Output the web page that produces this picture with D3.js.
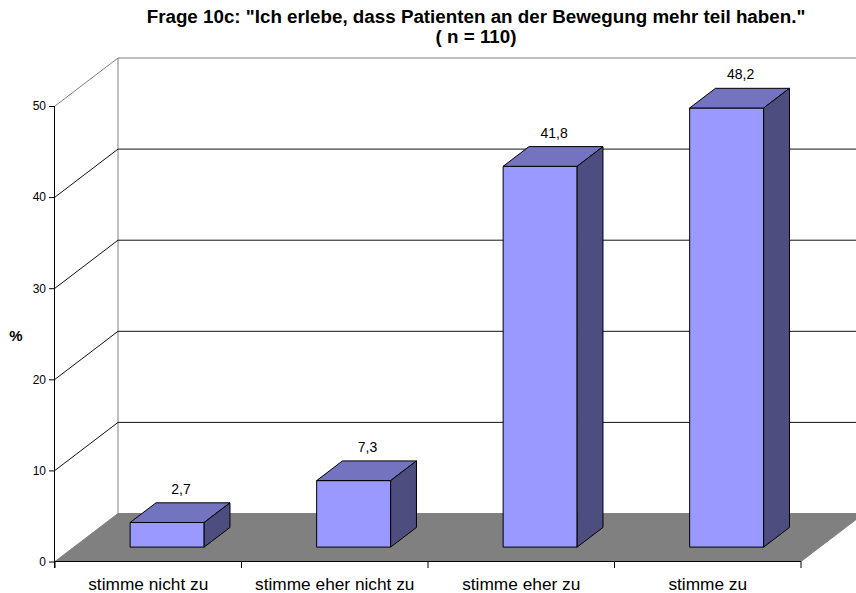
<!DOCTYPE html>
<html>
<head>
<meta charset="utf-8">
<script src="https://cdn.jsdelivr.net/npm/d3@7"></script>
<style>
  html, body { margin: 0; padding: 0; background: #fff; }
  svg { display: block; font-family: "Liberation Sans", Arial, sans-serif; }
</style>
</head>
<body>
<svg id="chart" width="856" height="593"></svg>
<script>
const categories = ["stimme nicht zu", "stimme eher nicht zu", "stimme eher zu", "stimme zu"];
const values = [2.7, 7.3, 41.8, 48.2];
const valueLabels = ["2,7", "7,3", "41,8", "48,2"];
const yTicks = [0, 10, 20, 30, 40, 50];
const titleLines = ["Frage 10c: \"Ich erlebe, dass Patienten an der Bewegung mehr teil haben.\"", "( n = 110)"];
const yAxisTitle = "%";

const W = 856, H = 593;
const svg = d3.select("#chart");

const x = d3.scaleBand().domain(categories).range([55, 801]).paddingInner(0).paddingOuter(0);
const y = d3.scaleLinear().domain([0, 50]).range([561.5, 106]);
const DX = 63, DY = 48;           // depth offset of back wall
const F0 = 0.3, F1 = 0.71;        // bar depth span (fraction)
const barW = 74;

svg.append("defs").append("clipPath").attr("id", "c")
  .append("rect").attr("x", 0).attr("y", 0).attr("width", W).attr("height", H);

const g = svg.append("g").attr("clip-path", "url(#c)");
const x0 = x.range()[0], x1 = x.range()[1];
const yTop = y(50), yBot = y(0);
const pts = a => a.map(p => p.join(",")).join(" ");

// back wall border
g.append("polyline")
  .attr("points", pts([[x0 + DX, yBot - DY], [x0 + DX, yTop - DY], [x1 + DX, yTop - DY]]))
  .attr("fill", "none").attr("stroke", "#808080").attr("stroke-width", 1);
// left wall top edge
g.append("line").attr("x1", x0).attr("y1", yTop).attr("x2", x0 + DX).attr("y2", yTop - DY)
  .attr("stroke", "#808080");

// gridlines
yTicks.filter(t => t > 0 && t < 50).forEach(t => {
  const yy = y(t);
  g.append("polyline")
    .attr("points", pts([[x0, yy], [x0 + DX, yy - DY], [x1 + DX, yy - DY]]))
    .attr("fill", "none").attr("stroke", "#111").attr("stroke-width", 1);
});

// floor
g.append("polygon")
  .attr("points", pts([[x0, yBot], [x1, yBot], [x1 + DX, yBot - DY], [x0 + DX, yBot - DY]]))
  .attr("fill", "#808080").attr("stroke", "#808080");

// bars
const bars = g.selectAll("g.bar").data(categories).enter().append("g").attr("class", "bar");
bars.each(function(c, i) {
  const v = values[i];
  const cx = x(c) + x.bandwidth() / 2;
  const lx = cx - barW / 2 + F0 * DX;
  const rx = lx + barW;
  const by = y(0) - F0 * DY;
  const ty = y(v) - F0 * DY;
  const ddx = (F1 - F0) * DX, ddy = (F1 - F0) * DY;
  const sel = d3.select(this);
  sel.append("polygon").attr("points", pts([[lx, by], [rx, by], [rx, ty], [lx, ty]]))
    .attr("fill", "#9999FF").attr("stroke", "#000").attr("stroke-width", 1);
  sel.append("polygon").attr("points", pts([[lx, ty], [rx, ty], [rx + ddx, ty - ddy], [lx + ddx, ty - ddy]]))
    .attr("fill", "#7373BF").attr("stroke", "#000").attr("stroke-width", 1);
  sel.append("polygon").attr("points", pts([[rx, by], [rx + ddx, by - ddy], [rx + ddx, ty - ddy], [rx, ty]]))
    .attr("fill", "#4D4D80").attr("stroke", "#000").attr("stroke-width", 1);
  sel.append("text")
    .attr("x", (lx + rx) / 2 + ddx / 2 + 1)
    .attr("y", ty - ddy - 9)
    .attr("text-anchor", "middle")
    .attr("font-size", 14)
    .attr("fill", "#000")
    .text(valueLabels[i]);
});

// y axis
const yAxis = d3.axisLeft(y).tickValues(yTicks).tickSize(6).tickPadding(3).tickFormat(d3.format("d"));
const ya = svg.append("g").attr("transform", `translate(${x0},0)`).call(yAxis);
ya.select(".domain").attr("d", `M-0.5,${yTop}V${yBot + 6.5}`).attr("stroke", "#000");
ya.selectAll(".tick text").attr("font-size", 12).attr("font-family", "Liberation Sans, Arial, sans-serif").attr("fill", "#000");
ya.selectAll(".tick line").attr("stroke", "#000");

// x axis line + ticks at band boundaries
const bounds = categories.map(c => x(c)).concat([x1]);
svg.append("line").attr("x1", x0).attr("x2", x1).attr("y1", yBot).attr("y2", yBot)
  .attr("stroke", "#000");
svg.selectAll("line.xt").data(bounds).enter().append("line").attr("class", "xt")
  .attr("x1", d => d).attr("x2", d => d).attr("y1", yBot).attr("y2", yBot + 6.5)
  .attr("stroke", "#000");
svg.selectAll("text.cat").data(categories).enter().append("text").attr("class", "cat")
  .attr("x", d => x(d) + x.bandwidth() / 2)
  .attr("y", 590)
  .attr("text-anchor", "middle")
  .attr("font-size", 17.3)
  .attr("fill", "#000")
  .text(d => d);

// y axis title
svg.append("text").attr("x", 16).attr("y", 341).attr("text-anchor", "middle")
  .attr("font-size", 15).attr("font-weight", "bold").text(yAxisTitle);

// title
svg.selectAll("text.title").data(titleLines).enter().append("text").attr("class", "title")
  .attr("x", 476).attr("y", (d, i) => 23 + i * 19.5)
  .attr("text-anchor", "middle")
  .attr("font-size", 18.8).attr("font-weight", "bold")
  .text(d => d);
</script>
</body>
</html>
